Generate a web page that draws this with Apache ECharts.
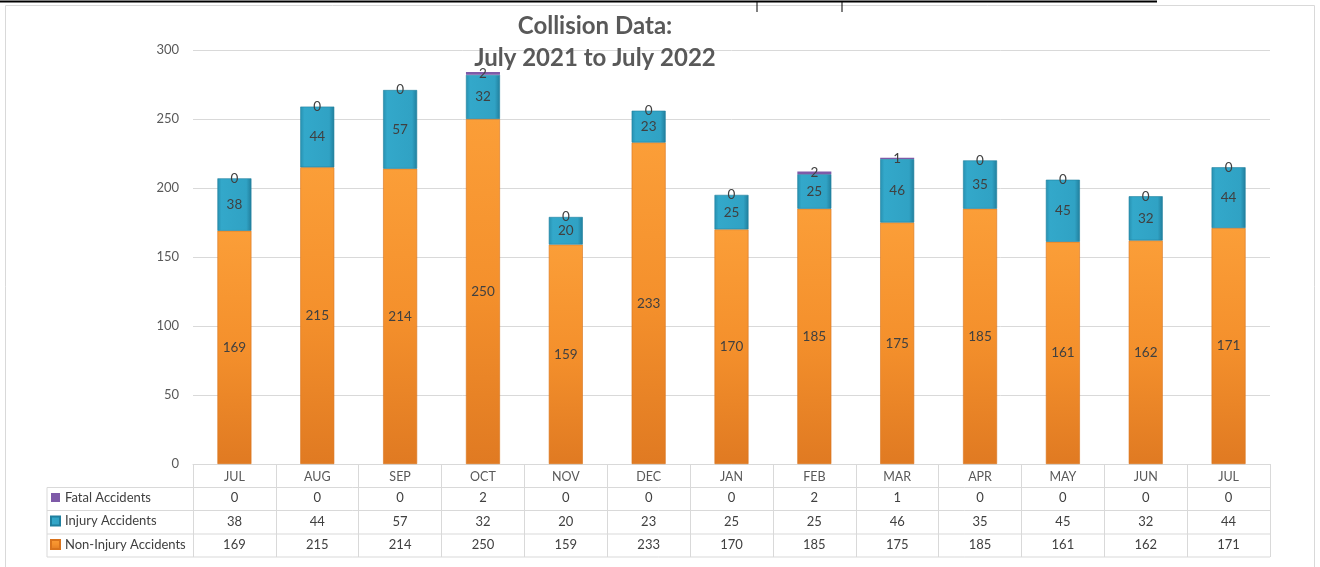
<!DOCTYPE html>
<html><head><meta charset="utf-8">
<script src="https://cdn.jsdelivr.net/npm/echarts@6/dist/echarts.min.js"></script>
<style>html,body{margin:0;padding:0;background:#fff}#c{width:1320px;height:567px}</style>
</head><body><div id="c"></div>
<script>
const categories = ['JUL','AUG','SEP','OCT','NOV','DEC','JAN','FEB','MAR','APR','MAY','JUN','JUL'];
const fatal = [0,0,0,2,0,0,0,2,1,0,0,0,0];
const injury = [38,44,57,32,20,23,25,25,46,35,45,32,44];
const nonInjury = [169,215,214,250,159,233,170,185,175,185,161,162,171];
const seriesNames = ['Fatal Accidents','Injury Accidents','Non-Injury Accidents'];
const yTicks = {min:0,max:300,interval:50};

const FONT = 'Lato';
const GRID = '#d9d9d9';
const TXT = '#404040';

const orange = new echarts.graphic.LinearGradient(0,0,0,1,[
  {offset:0,color:'#FB9E38'},{offset:0.5,color:'#F4902C'},{offset:1,color:'#E07A22'}]);
const teal = new echarts.graphic.LinearGradient(0,0,1,0,[
  {offset:0,color:'#2790B0'},{offset:0.12,color:'#33A8CA'},{offset:0.85,color:'#30A2C4'},{offset:1,color:'#217E9C'}]);
const purple = '#7E5AA8';

const chart = echarts.init(document.getElementById('c'), null, {renderer:'canvas'});
const lbl = {show:true, position:'inside', color:TXT, fontSize:13.5, fontFamily:FONT};
function tableAxis(data, offset){
  return {type:'category', gridIndex:0, position:'bottom', offset:offset, data:data.map(String),
    axisLine:{show:false}, axisTick:{show:false},
    axisLabel:{interval:0, margin:4, color:TXT, fontSize:13, fontFamily:FONT}};
}
const option = {
  animation:false,
  title:{text:'Collision Data:\nJuly 2021 to July 2022', left:590, top:5, textAlign:'center',
    textStyle:{fontFamily:FONT, fontWeight:'bold', fontSize:24, lineHeight:32, color:'#595959'}, z:10},
  legend:{data:seriesNames, orient:'vertical', left:50, top:490, itemGap:8.5, padding:0,
    itemWidth:9, itemHeight:9, icon:'rect', selectedMode:false,
    textStyle:{fontFamily:FONT, fontSize:13, color:TXT, lineHeight:15}},
  grid:{left:193, right:50, top:50, bottom:103, containLabel:false},
  xAxis:[
    {type:'category', data:categories, boundaryGap:true,
     axisLine:{lineStyle:{color:GRID}}, axisTick:{show:true, length:93, lineStyle:{color:GRID}},
     axisLabel:{interval:0, margin:6, color:'#595959', fontSize:12.5, fontFamily:FONT}},
    tableAxis(fatal, 23.5),
    tableAxis(injury, 47),
    tableAxis(nonInjury, 70)
  ],
  yAxis:{type:'value', min:yTicks.min, max:yTicks.max, interval:yTicks.interval,
    axisLine:{show:false}, axisTick:{show:false},
    splitLine:{lineStyle:{color:GRID}},
    axisLabel:{margin:14, color:'#595959', fontSize:13, fontFamily:FONT}},
  series:[
    {name:'Non-Injury Accidents', type:'bar', stack:'a', data:nonInjury, barWidth:34,
     itemStyle:{color:orange, borderColor:'#D9731C', borderWidth:0.6}, label:lbl},
    {name:'Injury Accidents', type:'bar', stack:'a', data:injury, barWidth:34,
     itemStyle:{color:teal, borderColor:'#1F7F9E', borderWidth:0.6}, label:lbl},
    {name:'Fatal Accidents', type:'bar', stack:'a', data:fatal, barWidth:34,
     itemStyle:{color:purple}, label:lbl}
  ]
};
chart.setOption(option);

// table grid lines & frame
const x0 = 47;
const xr = 1270;
const rows = [487.5, 510.5, 534, 557];
const g = [];
rows.forEach(y=>g.push({type:'line', shape:{x1:x0,y1:y,x2:xr,y2:y}, style:{stroke:GRID,lineWidth:1}}));
g.push({type:'line', shape:{x1:x0,y1:rows[0],x2:x0,y2:rows[3]}, style:{stroke:GRID,lineWidth:1}});
// outer chart frame
g.push({type:'rect', shape:{x:5.5,y:5.5,width:1309,height:600}, style:{fill:null,stroke:'#d9d9d9',lineWidth:1}});
// document artifacts at top
g.push({type:'line', shape:{x1:0,y1:1.5,x2:1157,y2:1.5}, style:{stroke:'#000',lineWidth:2}});
g.push({type:'line', shape:{x1:757,y1:1,x2:757,y2:12}, style:{stroke:'#000',lineWidth:1}});
g.push({type:'line', shape:{x1:842,y1:1,x2:842,y2:12}, style:{stroke:'#000',lineWidth:1}});
chart.setOption({graphic:g});
</script></body></html>
